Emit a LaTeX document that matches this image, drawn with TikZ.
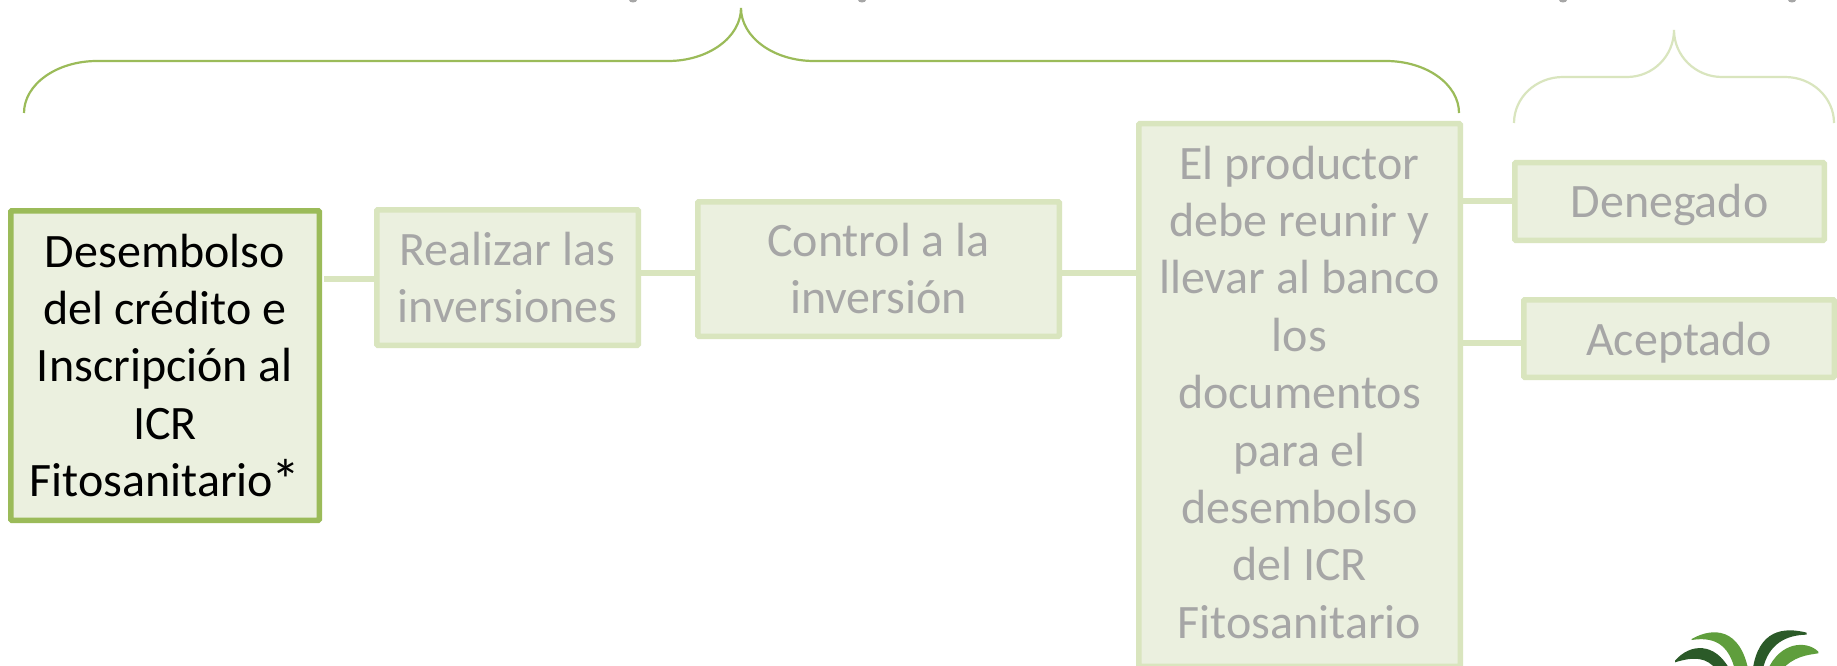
\documentclass[tikz,border=0pt]{standalone}
\usepackage{fontspec}
\setmainfont{Carlito}
\definecolor{mainG}{HTML}{9BBB59}
\definecolor{paleG}{HTML}{D9E5BE}
\definecolor{fillG}{HTML}{EBF0DF}
\definecolor{txtG}{HTML}{A6A6A6}
\definecolor{leafL}{HTML}{5F9E3C}
\definecolor{leafD}{HTML}{2B5A28}
\newcommand{\boxtxt}[2]{\raisebox{#1pt}[0pt][0pt]{\begin{tabular}[t]{@{}c@{}}#2\end{tabular}}}
\tikzset{
  stagebox/.style={draw=paleG,fill=fillG,line width=5.5pt,rounded corners=1pt,inner sep=0pt,text=txtG,
     font=\fontsize{48}{57.4}\selectfont},
  activebox/.style={stagebox,draw=mainG,text=black},
  conn/.style={draw=paleG,line width=5.5pt},
  bracemain/.style={draw=mainG,line width=2.2pt},
  bracepale/.style={draw=paleG,line width=2.2pt},
  smudge/.style={fill=txtG,draw=none},
}
\begin{document}
\begin{tikzpicture}[x=1pt,y=-1pt]
\clip (0,0) rectangle (1837,666);
\fill[white] (0,0) rectangle (1837,666);
% cropped fragments along the top edge
\foreach \sx in {633,862,1563,1792}{\fill[smudge] (\sx,0) ellipse [x radius=4,y radius=2.5];}
% braces
\draw[bracemain] (24,113) arc[start angle=180,end angle=270,x radius=73,y radius=52]
  -- (668,61) arc[start angle=90,end angle=0,x radius=73,y radius=53]
  arc[start angle=180,end angle=90,x radius=73,y radius=53]
  -- (1386,61) arc[start angle=270,end angle=360,x radius=73,y radius=52];
\draw[bracepale] (1514,123) arc[start angle=180,end angle=270,x radius=49,y radius=46]
  -- (1627,77) arc[start angle=90,end angle=0,x radius=47,y radius=47]
  arc[start angle=180,end angle=90,x radius=48,y radius=47]
  -- (1785,77) arc[start angle=270,end angle=360,x radius=49,y radius=46];
% boxes
\node[activebox,minimum width=308.5pt,minimum height=309.5pt] (b1) at (165,365.5)
  {\boxtxt{98.5}{Desembolso\\del crédito e\\Inscripción al\\ICR\\Fitosanitario\kern-2pt\raisebox{-4pt}{\fontsize{58}{57}\selectfont *}}};
\node[stagebox,minimum width=261.5pt,minimum height=135.5pt] (b2) at (507.5,277.5)
  {\boxtxt{12}{Realizar las\\inversiones}};
\node[stagebox,minimum width=361.5pt,minimum height=134.5pt] (b3) at (878.5,269)
  {\boxtxt{12.5}{Control a la\\inversión}};
\node[stagebox,minimum width=321.5pt,minimum height=542.5pt] (b4) at (1299.5,395)
  {\boxtxt{216}{El productor\\debe reunir y\\llevar al banco\\los\\documentos\\para el\\desembolso\\del ICR\\Fitosanitario}};
\node[stagebox,minimum width=309.5pt,minimum height=77.5pt] (b5) at (1669.5,201.5)
  {\boxtxt{-16}{Denegado}};
\node[stagebox,minimum width=310.5pt,minimum height=77.5pt] (b6) at (1679,338.5)
  {\boxtxt{-17}{Aceptado}};
% connectors
\coordinate (c12) at (0,279);
\coordinate (c23) at (0,273);
\coordinate (c45) at (0,201);
\coordinate (c46) at (0,343);
\draw[conn,shorten <=2pt] (b1.east |- c12) -- (b2.west |- c12);
\draw[conn] (b2.east |- c23) -- (b3.west |- c23);
\draw[conn] (b3.east |- c23) -- (b4.west |- c23);
\draw[conn] (b4.east |- c45) -- (b5.west |- c45);
\draw[conn] (b4.east |- c46) -- (b6.west |- c46);
% logo leaves
\begin{scope}[shift={(1600,600)},x=0.3333pt,y=-0.3333pt]
\fill[leafL] (275,117) .. controls (340,80) and (420,85) .. (445,210) -- (405,210) .. controls (385,130) and (340,110) .. (275,120) -- cycle;
\fill[leafD] (225,182) .. controls (270,130) and (345,125) .. (390,210) -- (350,210) .. controls (320,170) and (280,170) .. (225,187) -- cycle;
\fill[leafD] (620,98) .. controls (550,80) and (475,90) .. (458,210) -- (488,210) .. controls (505,130) and (560,105) .. (620,104) -- cycle;
\fill[leafL] (655,155) .. controls (620,120) and (540,125) .. (503,210) -- (545,210) .. controls (580,170) and (620,165) .. (655,160) -- cycle;
\end{scope}
\end{tikzpicture}
\end{document}
